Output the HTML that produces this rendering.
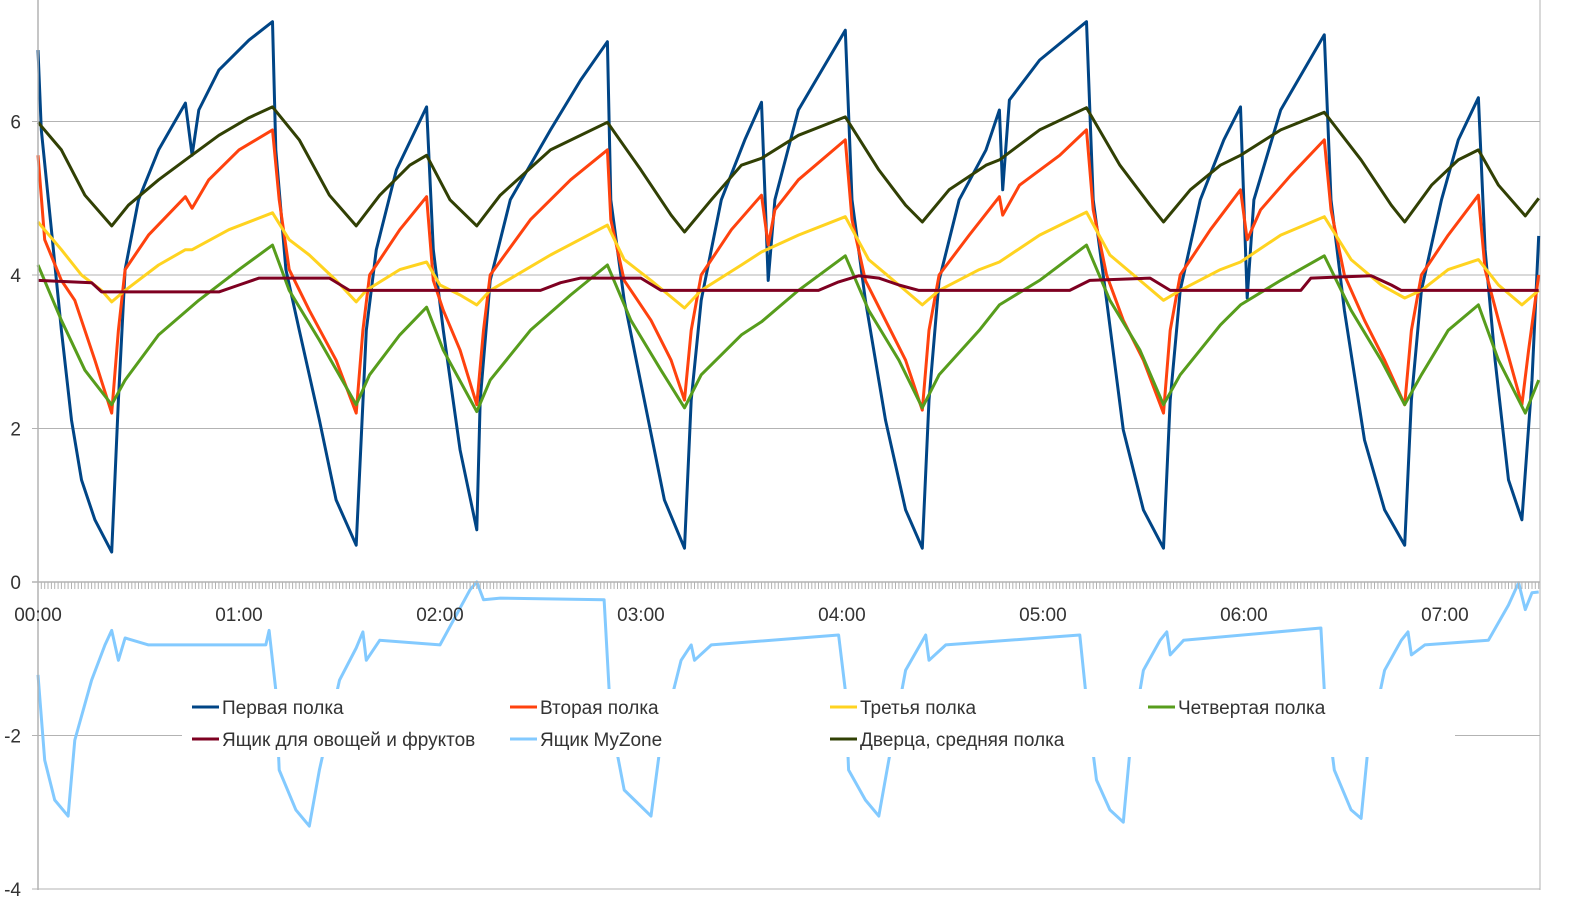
<!DOCTYPE html>
<html><head><meta charset="utf-8"><style>
html,body{margin:0;padding:0;background:#fff;}
svg{display:block;font-family:"Liberation Sans",sans-serif;}
</style></head><body>
<svg id="chart" width="1588" height="921" viewBox="0 0 1588 921" xmlns="http://www.w3.org/2000/svg">
<g id="grid"></g><g id="series"></g><g id="axes"></g><g id="legend"></g>
</svg>
<script>
const yTicks = [6,4,2,0,-2,-4];
const xTickLabels = ["00:00","01:00","02:00","03:00","04:00","05:00","06:00","07:00"];
const seriesNames = ["Первая полка","Вторая полка","Третья полка","Четвертая полка","Ящик для овощей и фруктов","Ящик MyZone","Дверца, средняя полка"];
const seriesColors = ["#004586","#ff420e","#ffd320","#579d1c","#7e0021","#83caff","#314004"];
const s1 = [[0,6.93],[1,5.89],[4,4.59],[7,3.28],[10,2.11],[13,1.33],[17,0.81],[22,0.39],[24,2.37],[26,4.07],[30,4.98],[36,5.63],[44,6.24],[46,5.56],[48,6.15],[54,6.67],[63,7.06],[70,7.3],[71,5.63],[74,4.07],[78,3.28],[84,2.11],[89,1.07],[95,0.48],[98,3.28],[101,4.33],[107,5.37],[116,6.19],[118,4.33],[121,3.28],[126,1.72],[131,0.68],[132,2.37],[135,3.93],[141,4.98],[153,5.89],[162,6.54],[170,7.04],[171,4.98],[175,3.67],[181,2.37],[187,1.07],[193,0.44],[195,2.37],[198,3.67],[204,4.98],[211,5.76],[216,6.25],[218,3.93],[220,4.98],[227,6.15],[241,7.19],[243,4.98],[247,3.67],[253,2.11],[259,0.94],[264,0.44],[266,2.37],[269,3.93],[275,4.98],[283,5.63],[287,6.15],[288,5.11],[290,6.28],[299,6.8],[313,7.3],[315,4.98],[319,3.67],[324,1.98],[330,0.94],[336,0.44],[338,2.37],[341,3.8],[347,4.98],[354,5.76],[359,6.19],[361,3.7],[363,4.98],[371,6.15],[384,7.13],[386,4.98],[390,3.54],[396,1.85],[402,0.94],[408,0.48],[410,2.37],[413,3.8],[419,4.98],[424,5.76],[430,6.31],[432,4.33],[435,2.89],[439,1.33],[443,0.81],[446,2.63],[448,4.51]];
const s2 = [[0,5.56],[2,4.46],[7,3.93],[11,3.67],[17,2.89],[22,2.2],[24,3.28],[26,4.07],[33,4.52],[44,5.02],[46,4.87],[51,5.24],[60,5.63],[70,5.89],[72,4.98],[75,4.07],[81,3.54],[89,2.89],[95,2.2],[97,3.28],[99,4.0],[108,4.59],[116,5.02],[118,3.93],[121,3.54],[126,3.02],[131,2.31],[133,3.28],[135,4.0],[147,4.72],[159,5.24],[170,5.63],[171,4.72],[175,3.93],[183,3.41],[189,2.89],[193,2.37],[195,3.28],[198,4.0],[207,4.59],[216,5.04],[218,4.39],[220,4.85],[227,5.24],[241,5.76],[243,4.72],[247,3.93],[253,3.41],[259,2.89],[264,2.24],[266,3.28],[269,4.0],[278,4.52],[287,5.02],[288,4.78],[293,5.17],[305,5.56],[313,5.89],[315,4.85],[319,4.0],[324,3.41],[330,2.89],[336,2.2],[338,3.28],[341,4.0],[350,4.59],[359,5.11],[361,4.46],[365,4.85],[374,5.3],[384,5.76],[386,4.85],[390,4.0],[396,3.41],[402,2.89],[408,2.31],[410,3.28],[413,4.0],[421,4.52],[430,5.04],[432,4.07],[436,3.41],[443,2.31],[445,3.02],[448,4.0]];
const s3 = [[0,4.69],[7,4.33],[13,4.0],[19,3.8],[22,3.65],[26,3.8],[36,4.13],[44,4.33],[46,4.33],[57,4.59],[70,4.81],[75,4.46],[81,4.26],[89,3.93],[95,3.65],[98,3.8],[108,4.07],[116,4.17],[120,3.87],[126,3.74],[131,3.61],[135,3.8],[153,4.26],[170,4.65],[175,4.2],[183,3.93],[193,3.57],[198,3.8],[210,4.13],[216,4.3],[227,4.52],[241,4.76],[248,4.2],[257,3.87],[264,3.61],[269,3.8],[281,4.07],[287,4.17],[299,4.52],[313,4.82],[320,4.26],[329,3.93],[336,3.67],[341,3.8],[353,4.07],[359,4.17],[371,4.52],[384,4.76],[392,4.2],[401,3.87],[408,3.7],[413,3.8],[421,4.07],[430,4.2],[436,3.87],[443,3.61],[448,3.8]];
const s4 = [[0,4.13],[7,3.41],[14,2.76],[22,2.31],[26,2.63],[36,3.22],[48,3.67],[60,4.07],[70,4.39],[75,3.8],[84,3.15],[95,2.31],[99,2.7],[108,3.22],[116,3.58],[121,3.02],[131,2.22],[135,2.63],[147,3.28],[159,3.74],[170,4.13],[177,3.41],[186,2.76],[193,2.27],[198,2.7],[210,3.22],[216,3.39],[227,3.8],[241,4.25],[248,3.54],[257,2.89],[264,2.27],[269,2.7],[281,3.28],[287,3.61],[299,3.93],[313,4.39],[320,3.67],[329,3.02],[336,2.31],[341,2.7],[353,3.35],[359,3.61],[371,3.93],[384,4.25],[392,3.54],[401,2.89],[408,2.31],[413,2.7],[421,3.28],[430,3.61],[436,2.89],[444,2.2],[448,2.63]];
const s5 = [[0,3.93],[16,3.9],[19,3.78],[54,3.78],[60,3.87],[66,3.96],[87,3.96],[93,3.8],[150,3.8],[156,3.9],[162,3.96],[180,3.96],[186,3.8],[233,3.8],[239,3.91],[245,3.99],[251,3.96],[257,3.87],[263,3.8],[308,3.8],[314,3.93],[332,3.96],[338,3.8],[377,3.8],[380,3.96],[398,3.99],[404,3.87],[407,3.8],[448,3.8]];
const s6 = [[0,-1.21],[2,-2.32],[5,-2.84],[9,-3.05],[11,-2.06],[16,-1.28],[20,-0.82],[22,-0.63],[24,-1.02],[26,-0.73],[33,-0.82],[68,-0.82],[69,-0.63],[71,-1.41],[72,-2.45],[77,-2.97],[81,-3.18],[84,-2.45],[90,-1.28],[95,-0.86],[97,-0.65],[98,-1.02],[102,-0.76],[120,-0.82],[129,-0.1],[131,0],[133,-0.23],[138,-0.21],[169,-0.23],[171,-1.8],[175,-2.71],[183,-3.05],[186,-2.06],[192,-1.02],[195,-0.82],[196,-1.02],[201,-0.82],[239,-0.69],[241,-1.41],[242,-2.45],[247,-2.84],[251,-3.05],[254,-2.32],[259,-1.15],[265,-0.69],[266,-1.02],[271,-0.82],[311,-0.69],[313,-1.54],[316,-2.58],[320,-2.97],[324,-3.13],[326,-2.19],[330,-1.15],[335,-0.76],[337,-0.65],[338,-0.95],[342,-0.76],[383,-0.6],[384,-1.41],[387,-2.45],[392,-2.97],[395,-3.08],[397,-2.19],[402,-1.15],[407,-0.76],[409,-0.65],[410,-0.95],[414,-0.82],[433,-0.76],[439,-0.3],[442,-0.01],[444,-0.36],[446,-0.14],[448,-0.13]];
const s7 = [[0,5.99],[7,5.63],[14,5.04],[22,4.64],[27,4.91],[36,5.24],[44,5.5],[54,5.82],[63,6.05],[70,6.19],[78,5.76],[87,5.04],[95,4.64],[102,5.04],[111,5.43],[116,5.56],[123,4.98],[131,4.64],[138,5.04],[153,5.63],[170,5.99],[180,5.37],[189,4.78],[193,4.56],[201,4.98],[210,5.43],[216,5.52],[227,5.82],[241,6.06],[251,5.37],[259,4.91],[264,4.69],[272,5.11],[283,5.43],[287,5.5],[299,5.89],[313,6.18],[323,5.43],[332,4.91],[336,4.69],[344,5.11],[353,5.43],[359,5.56],[371,5.89],[384,6.12],[395,5.5],[404,4.91],[408,4.69],[416,5.17],[424,5.5],[430,5.63],[436,5.17],[444,4.77],[448,5.0]];
const allSeries = [s1,s2,s3,s4,s5,s6,s7];

const NS="http://www.w3.org/2000/svg";
const X0=38, X1=1540, TMAX=448.4;
const xs = t => X0 + t*(X1-X0)/TMAX;
const ys = v => 582 - v*76.75;
function mk(tag, attrs, parent){const e=document.createElementNS(NS,tag);for(const k in attrs)e.setAttribute(k,attrs[k]);parent.appendChild(e);return e;}
const grid=document.getElementById('grid'), ser=document.getElementById('series'), axes=document.getElementById('axes'), leg=document.getElementById('legend');

yTicks.forEach(v=>{
  if(v!==0){const l=mk('line',{x1:32,x2:X1,y1:ys(v),y2:ys(v),stroke:'#b3b3b3','stroke-width':1},grid);
  
  }
  const t=mk('text',{x:21,y:ys(v)+7,'text-anchor':'end','font-size':19,fill:'#333'},axes);
  t.textContent=v;
  
  
});
const bl=mk('line',{x1:X1,x2:X1,y1:0,y2:890,stroke:'#b3b3b3','stroke-width':1},grid);



allSeries.forEach((s,i)=>{
  const d=s.map((p,j)=>(j?'L':'M')+xs(p[0]).toFixed(1)+','+ys(p[1]).toFixed(1)).join('');
  const p=mk('path',{d:d,fill:'none',stroke:seriesColors[i],'stroke-width':3,'stroke-linejoin':'round'},ser);
  
  
});

const ya=mk('line',{x1:X0,x2:X0,y1:0,y2:890,stroke:'#b3b3b3','stroke-width':1.5},axes);


const xa=mk('line',{x1:32,x2:X1,y1:582,y2:582,stroke:'#b3b3b3','stroke-width':1.5},axes);


let td='';
for(let m=0;m<=448;m++){td+='M'+xs(m).toFixed(1)+',582V589';}
const tk=mk('path',{d:td,stroke:'#b3b3b3','stroke-width':1},axes);


xTickLabels.forEach((lab,i)=>{
  const t=mk('text',{x:xs(i*60),y:621,'text-anchor':'middle','font-size':19,fill:'#333'},axes);
  t.textContent=lab;
  
  
});

const lb=mk('rect',{x:182,y:689,width:1273,height:68,fill:'#fff'},leg);


const colX=[192,510,830,1148], rowY=[707,739];
seriesNames.forEach((n,i)=>{
  const cx=colX[i%4], cy=rowY[Math.floor(i/4)];
  const g=mk('g',{},leg);
  
  
  mk('line',{x1:cx,x2:cx+27,y1:cy,y2:cy,stroke:seriesColors[i],'stroke-width':3},g);
  const t=mk('text',{x:cx+30,y:cy+7,'font-size':19,fill:'#333'},g);
  t.textContent=n;
});
</script>
</body></html>
